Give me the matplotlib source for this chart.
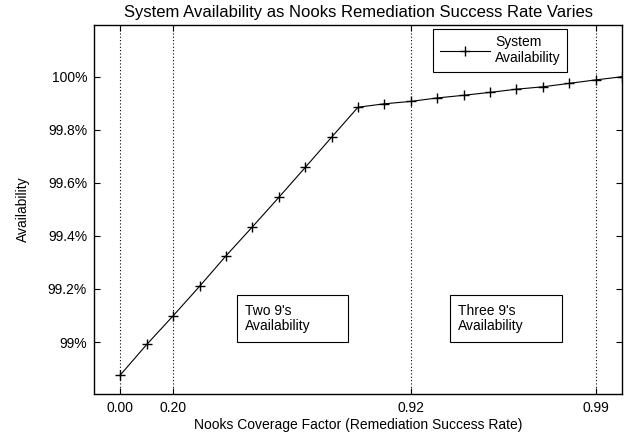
import numpy as np
import matplotlib.pyplot as plt
from matplotlib.patches import Rectangle

# coverage factor steps (plotted at even spacing, one slot per value)
coverage = [0.0, 0.1, 0.2, 0.3, 0.4, 0.5, 0.6, 0.7, 0.8, 0.9,
            0.91, 0.92, 0.93, 0.94, 0.95, 0.96, 0.97, 0.98, 0.99, 1.0]
availability = [98.876, 98.991, 99.099, 99.21, 99.325, 99.434, 99.545, 99.658, 99.772, 99.885,
                99.898, 99.907, 99.92, 99.93, 99.941, 99.953, 99.962, 99.975, 99.988, 100.0]

xtick_values = [0.0, 0.2, 0.92, 0.99]
xtick_labels = ['0.00', '0.20', '0.92', '0.99']
ytick_values = [99.0, 99.2, 99.4, 99.6, 99.8, 100.0]
ytick_labels = ['99%', '99.2%', '99.4%', '99.6%', '99.8%', '100%']

plt.rcParams['font.family'] = ['Liberation Sans', 'DejaVu Sans']
plt.rcParams['font.size'] = 10

fig = plt.figure(figsize=(6.31, 4.37), dpi=100)
ax = fig.add_axes([94/631, 1-394/437, (622-94)/631, (394-25)/437])

idx = np.arange(len(coverage))
ax.plot(idx, availability, color='black', lw=0.8, marker='+', ms=7, mew=1,
        label='System\nAvailability')

xt = [coverage.index(v) for v in xtick_values]
ax.set_xticks(xt)
ax.set_xticklabels(xtick_labels)
ax.set_yticks(ytick_values)
ax.set_yticklabels(ytick_labels)
ax.set_xlim(-1, 19)
ax.set_ylim(98.804, 100.195)

for x in xt:
    ax.axvline(x, color='black', lw=0.8, ls=(0, (1, 2)), zorder=0)

ax.tick_params(direction='in', length=4, width=0.8, top=True, right=True, pad=5)
for s in ax.spines.values():
    s.set_linewidth(1)

ax.set_title('System Availability as Nooks Remediation Success Rate Varies', pad=6)
ax.set_xlabel('Nooks Coverage Factor (Remediation Success Rate)', labelpad=2)
ax.set_ylabel('Availability', labelpad=13)

leg = ax.legend(loc='upper right', bbox_to_anchor=(567/631, 1-29/437),
                bbox_transform=fig.transFigure, fancybox=False, edgecolor='black',
                framealpha=1, borderpad=0.45, borderaxespad=0, handlelength=3.6,
                handletextpad=0.4, labelspacing=0.1)
leg.get_frame().set_linewidth(0.8)

# annotation boxes (drawn in data coordinates)
boxes = [(4.43, 8.64, "Two 9's\nAvailability"), (12.47, 16.71, "Three 9's\nAvailability")]
for x0, x1, label in boxes:
    ax.add_patch(Rectangle((x0, 99.0), x1 - x0, 0.177, fc='white', ec='black', lw=0.8, zorder=3))
    ax.text(x0 + 0.3, 99.0885, label, ha='left', va='center', linespacing=1.15, zorder=4)

fig.savefig('out.png', dpi=100)
